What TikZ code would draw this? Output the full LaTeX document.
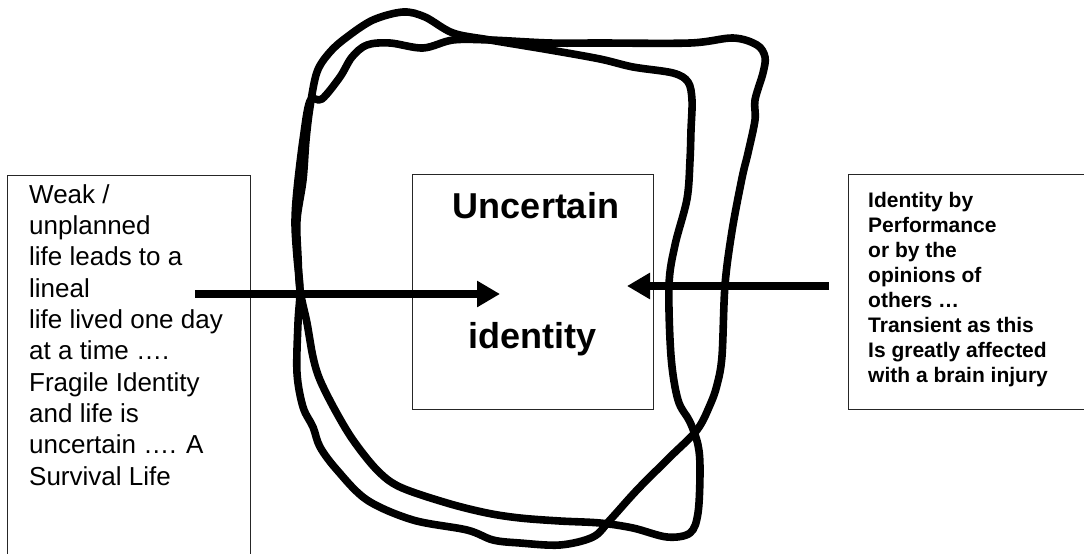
\documentclass[tikz,border=0pt]{standalone}
\usepackage{fontspec}
\setmainfont{Liberation Sans}
\usetikzlibrary{arrows.meta}
\begin{document}
\begin{tikzpicture}[x=1pt,y=-1pt,
  scribble/.style={line width=7.6pt, line join=round, line cap=round},
  boxline/.style={line width=0.9pt, draw=black!85},
  bigarrow/.style={line width=8.4pt, -{Triangle[length=23pt,width=25pt]}},
  lefttext/.style={font=\fontsize{26}{31.3}\selectfont, align=left, inner sep=0pt, anchor=base west},
  righttext/.style={font=\bfseries\fontsize{21}{25}\selectfont, align=left, inner sep=0pt, anchor=base west},
  centertext/.style={font=\bfseries\fontsize{36}{40}\selectfont, inner sep=0pt, anchor=base}
]
\useasboundingbox (0,0) rectangle (1084,554);
\begin{scope}
\clip (0,0) rectangle (1084,554);
% boxes
\node[minimum width=243pt, minimum height=420pt, anchor=north west, inner sep=0pt] (leftbox) at (7,175) {};
\draw[boxline] (leftbox.south west) -- (leftbox.north west) -- (leftbox.north east) -- (leftbox.south east);
\node[minimum width=260pt, minimum height=235pt, anchor=north west, inner sep=0pt] (rightbox) at (848,174) {};
\draw[boxline] (rightbox.north east) -- (rightbox.north west) -- (rightbox.south west) -- (rightbox.south east);
\node[draw, boxline, minimum width=241pt, minimum height=235pt, anchor=north west, inner sep=0pt] (idbox) at (412,174) {};
% texts (base anchor = baseline of the last line)
\node[lefttext] (ltext) at (29,485) {Weak /\\unplanned\\life leads to a\\lineal\\life lived one day\\at a time ….\\Fragile Identity\\and life is\\uncertain …. A\\Survival Life};
\node[righttext] (rtext) at (868,382) {Identity by\\Performance\\or by the\\opinions of\\others …\\Transient as this\\Is greatly affected\\with a brain injury};
\node[centertext] (unc) at (536,218) {Uncertain};
\node[centertext] (ident) at (532,348) {identity};
% scribbled loops
\draw[scribble] plot[smooth cycle, tension=0.55] coordinates {
 (303,180) (306,140) (310,107) (317,72) (330,52) (347,37) (373,20) (403,12) (425,17)
 (453,33) (490,40) (550,50) (600,59) (633,67) (673,73) (688,82) (692,100) (691,130)
 (690,160) (687,199) (675,245) (669,285) (671,356) (678,400) (690,422) (698,445)
 (700,470) (698,513) (690,533) (667,537) (633,528) (600,523) (560,521) (520,518)
 (487,513) (447,503) (400,487) (377,470) (353,440) (335,410) (320,380) (313,357)
 (307,323) (300,290) (298,257) (297,220)};
\draw[scribble] plot[smooth cycle, tension=0.55] coordinates {
 (310,101) (322,99) (340,77) (352,57) (367,45) (390,43) (423,48) (453,40) (490,40)
 (550,43) (600,43) (690,43) (733,38) (757,45) (765,57) (763,73) (755,100) (755,120)
 (748,153) (742,178) (732,231) (725,285) (722,356) (717,385) (710,405) (697,430)
 (670,457) (637,490) (610,520) (593,537) (560,545) (520,543) (493,540) (467,530)
 (413,520) (367,500) (337,470) (320,447) (313,427) (303,407) (297,373) (298,323)
 (300,290) (297,257) (295,223) (297,190) (303,140)};
% arrows
\coordinate (lstart) at (195,294);
\coordinate (lend) at (500,294);
\coordinate (rstart) at (829,286);
\coordinate (rend) at (627,286);
\draw[bigarrow] (lstart) -- (lend);
\draw[bigarrow] (rstart) -- (rend);
\end{scope}
\end{tikzpicture}
\end{document}
